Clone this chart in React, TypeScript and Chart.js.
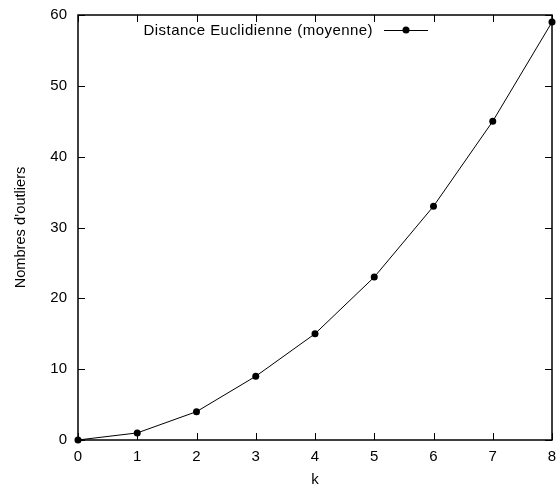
import React, { useEffect, useRef } from "react";
import { Chart, registerables } from "chart.js";

Chart.register(...registerables);

const kValues = [0, 1, 2, 3, 4, 5, 6, 7, 8];
const outliers = [0, 1, 4, 9, 15, 23, 33, 45, 59];
const seriesLabel = "Distance Euclidienne (moyenne)";
const xTitle = "k";
const yTitle = "Nombres d’outliers";

const FONT = '"Liberation Sans", Arial, Helvetica, sans-serif';

const framePlugin = {
  id: "gnuframe",
  afterDraw(chart: any) {
    const { ctx, chartArea } = chart;
    const { left, right, top, bottom } = chartArea;
    const xs = chart.scales.x;
    const ys = chart.scales.y;
    const tl = 7;
    ctx.save();
    ctx.strokeStyle = "#000";
    ctx.lineWidth = 1;
    ctx.beginPath();
    xs.ticks.forEach((t: any) => {
      const px = Math.round(xs.getPixelForValue(t.value)) + 0.5;
      ctx.moveTo(px, bottom);
      ctx.lineTo(px, bottom - tl);
      ctx.moveTo(px, top);
      ctx.lineTo(px, top + tl);
    });
    ys.ticks.forEach((t: any) => {
      const py = Math.round(ys.getPixelForValue(t.value)) + 0.5;
      ctx.moveTo(left, py);
      ctx.lineTo(left + tl, py);
      ctx.moveTo(right, py);
      ctx.lineTo(right - tl, py);
    });
    ctx.stroke();
    ctx.lineWidth = 1.5;
    ctx.strokeRect(left, top, right - left, bottom - top);

    // legend
    const ly = 30;
    ctx.font = `15px ${FONT}`;
    try {
      (ctx as any).letterSpacing = "0.45px";
    } catch (e) {}
    ctx.fillStyle = "#000";
    ctx.textAlign = "right";
    ctx.textBaseline = "middle";
    ctx.fillText(seriesLabel, 373, ly + 1);
    try {
      (ctx as any).letterSpacing = "0px";
    } catch (e) {}
    ctx.lineWidth = 1;
    ctx.beginPath();
    ctx.moveTo(384, ly + 0.5);
    ctx.lineTo(428, ly + 0.5);
    ctx.stroke();
    ctx.beginPath();
    ctx.arc(406, ly, 3.5, 0, Math.PI * 2);
    ctx.fill();
    ctx.restore();
  },
};

export default function App() {
  const ref = useRef<HTMLCanvasElement | null>(null);
  useEffect(() => {
    if (!ref.current) return;
    const points = kValues.map((k, i) => ({ x: k, y: outliers[i] }));
    const chart = new Chart(ref.current, {
      type: "line",
      data: {
        datasets: [
          {
            label: seriesLabel,
            data: points,
            borderColor: "#000",
            backgroundColor: "#000",
            borderWidth: 1,
            pointRadius: 3.5,
            pointBackgroundColor: "#000",
            pointBorderWidth: 0,
            tension: 0,
            clip: false as any,
          },
        ],
      },
      options: {
        animation: false,
        responsive: true,
        maintainAspectRatio: false,
        layout: { padding: { left: 0, top: 15, right: 5, bottom: 0 } },
        plugins: {
          legend: { display: false },
          tooltip: { enabled: false },
        },
        scales: {
          x: {
            type: "linear",
            min: 0,
            max: 8,
            grid: { display: false, drawTicks: false },
            border: { display: false },
            ticks: {
              stepSize: 1,
              color: "#000",
              padding: 8,
              font: { family: FONT, size: 15 },
            },
            title: {
              display: true,
              text: xTitle,
              color: "#000",
              font: { family: FONT, size: 15 },
              padding: { top: 0, bottom: 1 },
            },
            afterFit(scale: any) {
              scale.height = 50;
              scale.paddingLeft = 0;
              scale.paddingRight = 0;
            },
          },
          y: {
            type: "linear",
            min: 0,
            max: 60,
            grid: { display: false, drawTicks: false },
            border: { display: false },
            ticks: {
              stepSize: 10,
              color: "#000",
              padding: 11,
              font: { family: FONT, size: 15 },
            },
            title: {
              display: true,
              text: yTitle,
              color: "#000",
              font: { family: FONT, size: 14.6 },
              padding: { top: 12, bottom: 0 },
            },
            afterFit(scale: any) {
              scale.width = 78;
              scale.paddingTop = 0;
              scale.paddingBottom = 0;
            },
          },
        },
      },
      plugins: [framePlugin],
    });
    return () => chart.destroy();
  }, []);
  return (
    <div style={{ position: "absolute", left: 0, top: 0, width: 557, height: 490, background: "#fff" }}>
      <canvas ref={ref} />
    </div>
  );
}
